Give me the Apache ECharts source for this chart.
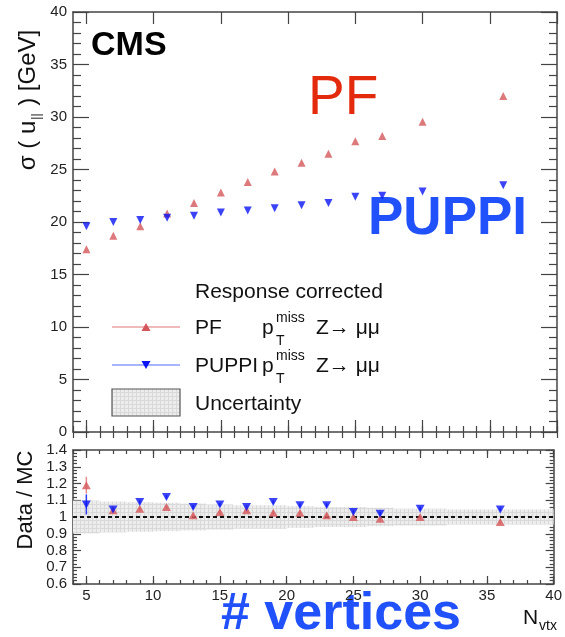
<!DOCTYPE html>
<html>
<head>
<meta charset="utf-8">
<script src="https://cdn.jsdelivr.net/npm/echarts@6/dist/echarts.min.js"></script>
<style>
  html, body { margin: 0; padding: 0; background: #fff; }
  #chart { width: 565px; height: 637px; }
</style>
</head>
<body>
<div id="chart"></div>
<script>
// Number of reconstructed vertices per bin
const nvtx = [5, 7, 9, 11, 13, 15, 17, 19, 21, 23, 25, 27, 30, 36];

// Resolution of the parallel recoil component [GeV]
const pfSigma    = [17.4, 18.7, 19.6, 20.8, 21.8, 22.8, 23.8, 24.8, 25.65, 26.5, 27.7, 28.2, 29.55, 32.0];
const puppiSigma = [19.6, 20.0, 20.2, 20.4, 20.6, 20.9, 21.1, 21.3, 21.6, 21.8, 22.4, 22.5, 22.9, 23.5];

// Data / MC ratios and their statistical errors
const pfRatio       = [1.19, 1.04, 1.05, 1.06, 1.01, 1.03, 1.04, 1.025, 1.025, 1.01, 1.0, 0.99, 1.0, 0.97];
const pfRatioErr    = [0.05, 0.01, 0.01, 0.01, 0.01, 0.01, 0.01, 0.01, 0.01, 0.01, 0.01, 0.01, 0.01, 0.01];
const puppiRatio    = [1.075, 1.045, 1.09, 1.12, 1.06, 1.075, 1.06, 1.09, 1.07, 1.07, 1.03, 1.02, 1.05, 1.045];
const puppiRatioErr = [0.06, 0.01, 0.01, 0.01, 0.01, 0.01, 0.01, 0.01, 0.01, 0.01, 0.01, 0.01, 0.01, 0.01];

// Systematic uncertainty band: bin edges and half widths around unity
const bandEdges = [4, 6, 8, 10, 12, 14, 16, 18, 20, 22, 24, 26, 28, 32, 40];
const bandHalf  = [0.098, 0.092, 0.088, 0.085, 0.08, 0.075, 0.07, 0.07, 0.065, 0.06, 0.06, 0.055, 0.05, 0.045];

// Axis ticks
const xMajorTicks = [5, 10, 15, 20, 25, 30, 35, 40];

const FONT = '"Liberation Sans", Arial, Helvetica, sans-serif';
const PF_COLOR = '#d4565a';
const PUPPI_COLOR = '#0a14f5';
const AXIS_COLOR = '#444';
const LABEL_COLOR = '#222';

// Fine grid fill used for the uncertainty band
function makeHatch() {
  const c = document.createElement('canvas');
  c.width = 4; c.height = 4;
  const g = c.getContext('2d');
  g.fillStyle = '#ededed';
  g.fillRect(0, 0, 4, 4);
  g.fillStyle = '#d9d9d9';
  g.fillRect(0, 0, 4, 1);
  g.fillRect(0, 0, 1, 4);
  return c;
}
const hatch = makeHatch();
const hatchFill = { image: hatch, repeat: 'repeat' };

function xAxesFor(gridIndex, showLabels, majorLen, minorLen) {
  const lineStyle = { color: AXIS_COLOR, width: 1.2 };
  const base = { type: 'value', gridIndex, min: 4, max: 40, splitLine: { show: false } };
  return [
    Object.assign({}, base, {
      position: 'bottom',
      axisLine: { show: true, onZero: false, lineStyle: { color: AXIS_COLOR, width: 1.5 } },
      axisTick: { show: true, inside: true, length: majorLen, customValues: xMajorTicks, lineStyle },
      axisLabel: {
        show: showLabels, customValues: xMajorTicks, margin: 4,
        fontFamily: FONT, fontSize: 15, color: LABEL_COLOR
      }
    }),
    Object.assign({}, base, {
      position: 'bottom', interval: 1,
      axisLine: { show: false },
      axisTick: { show: true, inside: true, length: minorLen, lineStyle },
      axisLabel: { show: false }
    }),
    Object.assign({}, base, {
      position: 'top',
      axisLine: { show: true, onZero: false, lineStyle: { color: AXIS_COLOR, width: 1.5 } },
      axisTick: { show: true, inside: true, length: majorLen, customValues: xMajorTicks, lineStyle },
      axisLabel: { show: false }
    }),
    Object.assign({}, base, {
      position: 'top', interval: 1,
      axisLine: { show: false },
      axisTick: { show: true, inside: true, length: minorLen, lineStyle },
      axisLabel: { show: false }
    })
  ];
}

function yAxesFor(gridIndex, min, max, interval, majorLen, minorLen, minorSplit) {
  const lineStyle = { color: AXIS_COLOR, width: 1.2 };
  const base = {
    type: 'value', gridIndex, min, max, interval,
    splitLine: { show: false },
    minorTick: { show: true, splitNumber: minorSplit, length: minorLen, lineStyle },
    axisLine: { show: true, onZero: false, lineStyle: { color: AXIS_COLOR, width: 1.5 } },
    axisTick: { show: true, inside: true, length: majorLen, lineStyle }
  };
  return [
    Object.assign({}, base, {
      position: 'left',
      axisLabel: { show: true, margin: 6, fontFamily: FONT, fontSize: 15, color: LABEL_COLOR }
    }),
    Object.assign({}, base, { position: 'right', axisLabel: { show: false } })
  ];
}

function errorBarSeries(xAxisIndex, yAxisIndex, xs, ys, errs, color) {
  return {
    type: 'custom',
    xAxisIndex, yAxisIndex,
    z: 3,
    data: xs.map((x, i) => [x, ys[i] - errs[i], ys[i] + errs[i]]),
    encode: { x: 0, y: [1, 2] },
    renderItem(params, api) {
      const lo = api.coord([api.value(0), api.value(1)]);
      const hi = api.coord([api.value(0), api.value(2)]);
      return {
        type: 'line',
        shape: { x1: lo[0], y1: lo[1], x2: hi[0], y2: hi[1] },
        style: { stroke: color, lineWidth: 1.5 }
      };
    }
  };
}

const chart = echarts.init(document.getElementById('chart'), null, { renderer: 'canvas' });

const textMid = { verticalAlign: 'middle', textVerticalAlign: 'middle' };
function label(x, y, text, font, fill) {
  return { type: 'text', x, y, style: Object.assign({ text, font: font + ' ' + FONT, fill: fill || '#111' }, textMid) };
}

const option = {
  backgroundColor: '#fff',
  animation: false,
  grid: [
    { left: 73, right: 8, top: 12, height: 420 },
    { left: 73, right: 8, top: 450, height: 134 }
  ],
  xAxis: [].concat(
    xAxesFor(0, false, 12, 6),
    xAxesFor(1, true, 8, 4)
  ),
  yAxis: [].concat(
    yAxesFor(0, 0, 40, 5, 16, 8, 5),
    yAxesFor(1, 0.6, 1.4, 0.1, 8, 4, 5)
  ),
  series: [
    // upper panel: resolution vs. number of vertices
    {
      name: 'PF', type: 'scatter', xAxisIndex: 0, yAxisIndex: 0,
      symbol: 'triangle', symbolSize: [8, 8],
      itemStyle: { color: PF_COLOR },
      data: nvtx.map((x, i) => [x, pfSigma[i]]), z: 4
    },
    {
      name: 'PUPPI', type: 'scatter', xAxisIndex: 0, yAxisIndex: 0,
      symbol: 'triangle', symbolRotate: 180, symbolSize: [8, 8],
      itemStyle: { color: PUPPI_COLOR },
      data: nvtx.map((x, i) => [x, puppiSigma[i]]), z: 5
    },
    // lower panel: uncertainty band with the unity reference line
    {
      name: 'Uncertainty', type: 'custom', xAxisIndex: 4, yAxisIndex: 2, z: 1,
      data: bandHalf.map((h, i) => [bandEdges[i], bandEdges[i + 1], 1 - h, 1 + h]),
      encode: { x: [0, 1], y: [2, 3] },
      renderItem(params, api) {
        const a = api.coord([api.value(0), api.value(3)]);
        const b = api.coord([api.value(1), api.value(2)]);
        return {
          type: 'rect',
          shape: { x: a[0], y: a[1], width: b[0] - a[0], height: b[1] - a[1] },
          style: { fill: hatchFill }
        };
      },
      markLine: {
        silent: true, symbol: 'none', z: 2,
        label: { show: false },
        lineStyle: { color: '#111', width: 2, type: [4, 3] },
        data: [{ yAxis: 1 }]
      }
    },
    errorBarSeries(4, 2, nvtx, pfRatio, pfRatioErr, '#e58a8a'),
    errorBarSeries(4, 2, nvtx, puppiRatio, puppiRatioErr, '#2a3cf5'),
    {
      name: 'PF ratio', type: 'scatter', xAxisIndex: 4, yAxisIndex: 2,
      symbol: 'triangle', symbolSize: [9, 8],
      itemStyle: { color: PF_COLOR },
      data: nvtx.map((x, i) => [x, pfRatio[i]]), z: 4
    },
    {
      name: 'PUPPI ratio', type: 'scatter', xAxisIndex: 4, yAxisIndex: 2,
      symbol: 'triangle', symbolRotate: 180, symbolSize: [9, 8],
      itemStyle: { color: PUPPI_COLOR },
      data: nvtx.map((x, i) => [x, puppiRatio[i]]), z: 5
    }
  ],
  graphic: [
    // axis titles
    {
      type: 'text', x: 28, y: 100, rotation: Math.PI / 2,
      style: {
        text: '{m|σ ( u}{s|||}{m| ) [GeV]}',
        align: 'center', verticalAlign: 'middle',
        textAlign: 'center', textVerticalAlign: 'middle',
        fill: '#111',
        rich: {
          m: { fontFamily: FONT, fontSize: 24, fill: '#111', lineHeight: 30, verticalAlign: 'middle' },
          s: { fontFamily: FONT, fontSize: 12, fill: '#111', lineHeight: 30, verticalAlign: 'bottom', padding: [0, 1, 0, 1] }
        }
      }
    },
    {
      type: 'text', x: 26, y: 500, rotation: Math.PI / 2,
      style: {
        text: 'Data / MC', font: '22px ' + FONT, fill: '#111',
        align: 'center', verticalAlign: 'middle', textAlign: 'center', textVerticalAlign: 'middle'
      }
    },
    label(523, 618, 'N', '21px'),
    label(539, 626, 'vtx', '14px'),
    // experiment tag and annotations
    label(91, 46, 'CMS', 'bold 34px', '#000'),
    label(308, 99, 'PF', '55px', '#e42a0c'),
    label(368, 219, 'PUPPI', 'bold 53px', '#2151fb'),
    label(221, 615, '# vertices', 'bold 52px', '#2151fb'),
    // legend
    label(195, 292, 'Response corrected', '21px'),
    { type: 'line', shape: { x1: 112, y1: 327, x2: 180, y2: 327 }, style: { stroke: '#eba3a3', lineWidth: 1.5 } },
    { type: 'polygon', shape: { points: [[146, 323], [150.5, 331], [141.5, 331]] }, style: { fill: PF_COLOR } },
    label(195, 328, 'PF', '21px'),
    { type: 'line', shape: { x1: 112, y1: 365, x2: 180, y2: 365 }, style: { stroke: '#8a9cfb', lineWidth: 1.5 } },
    { type: 'polygon', shape: { points: [[141.5, 361], [150.5, 361], [146, 369]] }, style: { fill: PUPPI_COLOR } },
    label(195, 366, 'PUPPI', '21px'),
    { type: 'rect', shape: { x: 112, y: 389, width: 68, height: 27 }, style: { fill: hatchFill, stroke: '#555', lineWidth: 1.2 } },
    label(195, 404, 'Uncertainty', '21px')
  ]
};

// "p_T^miss Z→ μμ" labels for both legend rows
[328, 366].forEach(function (y) {
  option.graphic.push(
    label(262, y, 'p', '21px'),
    label(276, y - 10, 'miss', '14px'),
    label(276, y + 13, 'T', '14px'),
    label(316, y, 'Z\u2192 \u03bc\u03bc', '21px')
  );
});

chart.setOption(option);
</script>
</body>
</html>
